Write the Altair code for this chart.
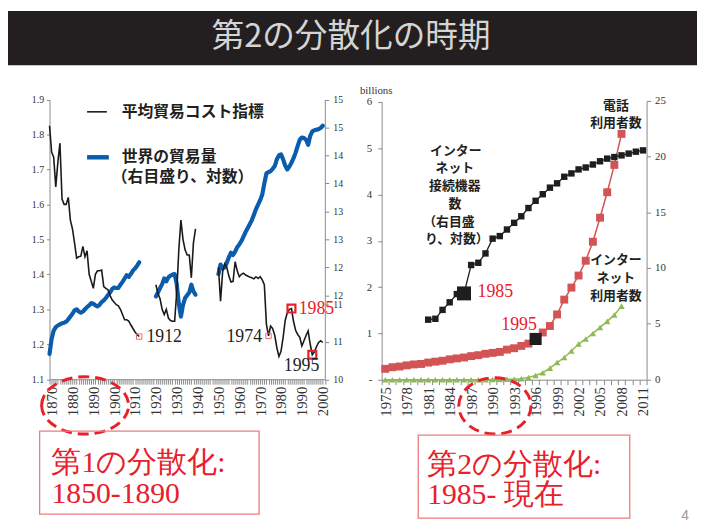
import altair as alt
import pandas as pd

W, H = 697, 522

# ---------------- left panel data ----------------
cost_years_a = list(range(1869, 1913))
cost_vals_a = [1.825, 1.75, 1.735, 1.65, 1.72, 1.775, 1.615, 1.60, 1.60, 1.62,
               1.555, 1.53, 1.49, 1.446, 1.45, 1.452, 1.48, 1.45, 1.467, 1.40,
               1.38, 1.36, 1.40, 1.41, 1.41, 1.412, 1.365, 1.36, 1.356, 1.34,
               1.327, 1.32, 1.313, 1.31, 1.30, 1.285, 1.27, 1.27, 1.266, 1.255,
               1.245, 1.235, 1.228, 1.222]
cost_years_b = list(range(1920, 1940))
cost_vals_b = [1.37, 1.345, 1.33, 1.30, 1.285, 1.30, 1.275, 1.268, 1.266, 1.266,
               1.35, 1.47, 1.555, 1.50, 1.47, 1.455, 1.455, 1.39, 1.49, 1.53]
cost_years_c = list(range(1950, 2001))
cost_vals_c = [1.42, 1.323, 1.407, 1.43, 1.42, 1.395, 1.378, 1.38, 1.436, 1.41,
               1.393, 1.40, 1.403, 1.398, 1.395, 1.392, 1.39, 1.387, 1.393, 1.388,
               1.393, 1.384, 1.37, 1.257, 1.224, 1.252, 1.245, 1.225, 1.19, 1.165,
               1.18, 1.219, 1.268, 1.29, 1.30, 1.302, 1.265, 1.24, 1.228, 1.22,
               1.195, 1.21, 1.225, 1.238, 1.20, 1.17, 1.178, 1.193, 1.205, 1.21,
               1.205]

trade_years_a = list(range(1869, 1913))
trade_vals_a = [10.45, 10.72, 10.87, 10.93, 10.96, 10.98, 11.0, 11.01, 11.03, 11.07,
                11.12, 11.17, 11.23, 11.25, 11.21, 11.19, 11.21, 11.25, 11.29, 11.32,
                11.36, 11.35, 11.32, 11.30, 11.33, 11.38, 11.41, 11.45, 11.50, 11.55,
                11.61, 11.64, 11.63, 11.63, 11.69, 11.74, 11.80, 11.86, 11.83, 11.88,
                11.94, 11.98, 12.03, 12.09]
trade_years_b = list(range(1920, 1940))
trade_vals_b = [11.48, 11.55, 11.63, 11.70, 11.80, 11.75, 11.82, 11.85, 11.87, 11.88,
                11.70, 11.35, 11.12, 11.33, 11.45, 11.50, 11.55, 11.69, 11.57, 11.51]
trade_years_c = list(range(1950, 2001))
trade_vals_c = [11.88, 12.05, 11.98, 12.0, 12.08, 12.18, 12.26, 12.22, 12.28, 12.36,
                12.41, 12.47, 12.55, 12.63, 12.70, 12.77, 12.84, 12.94, 13.04, 13.12,
                13.20, 13.30, 13.50, 13.68, 13.70, 13.72, 13.76, 13.81, 13.93, 14.0,
                14.02, 13.93, 13.82, 13.75, 13.80, 13.87, 13.95, 14.05, 14.17, 14.28,
                14.32, 14.31, 14.28, 14.19, 14.35, 14.43, 14.45, 14.46, 14.47, 14.49,
                14.53]

marker_years = [1912, 1974, 1985, 1995]
marker_vals = [1.222, 1.224, 1.302, 1.17]
marker_kind = ["light", "light", "bold", "bold"]

left_x_ticks = list(range(1869, 2002))
left_y_ticks = [1.1, 1.2, 1.3, 1.4, 1.5, 1.6, 1.7, 1.8, 1.9]
left_y2_ticks = [10, 10.67, 11.33, 11.5, 12, 12.5, 13, 13.5, 14, 14.5, 15]

# ---------------- right panel data ----------------
right_years = list(range(1975, 2009))
phone_users = [0.235, 0.27, 0.285, 0.31, 0.33, 0.34, 0.37, 0.39, 0.41, 0.44,
               0.46, 0.48, 0.51, 0.53, 0.56, 0.58, 0.60, 0.65, 0.68, 0.73,
               0.78, 0.88, 1.02, 1.16, 1.41, 1.73, 1.99, 2.25, 2.57, 2.98,
               3.50, 4.05, 4.64, 5.31]
net_users = [0, 0, 0, 0, 0, 0, 0, 0, 0, 0,
             0, 0, 0, 0, 0, 0.003, 0.005, 0.008, 0.012, 0.02,
             0.05, 0.09, 0.15, 0.25, 0.37, 0.48, 0.62, 0.77, 0.88, 1.00,
             1.13, 1.26, 1.40, 1.59]
host_years = list(range(1981, 2012))
net_hosts = [5.35, 5.43, 6.23, 6.91, 7.65, 7.71, 10.26, 10.46, 11.3, 12.63,
             12.86, 13.45, 14.05, 14.64, 15.38, 16.03, 16.62, 17.21, 17.6, 18.19,
             18.49, 18.85, 19.02, 19.29, 19.58, 19.82, 19.96, 20.11, 20.27, 20.44,
             20.56]
big_host_year, big_host_val = 1986, 7.71
big_phone_year, big_phone_val = 1996, 0.88

right_x_bounds = [1974.5 + i for i in range(38)]
right_x_labels = list(range(1975, 2012, 3))
right_y_ticks = [0, 1, 2, 3, 4, 5, 6]
right_y2_ticks = [0, 5, 10, 15, 20, 25]


def seg_df(parts):
    rows = []
    for i, (ys, vs) in enumerate(parts):
        for y, v in zip(ys, vs):
            rows.append({"year": y, "value": v, "seg": i})
    return pd.DataFrame(rows)


cost_df = seg_df([(cost_years_a, cost_vals_a), (cost_years_b, cost_vals_b), (cost_years_c, cost_vals_c)])
trade_df = seg_df([(trade_years_a, trade_vals_a), (trade_years_b, trade_vals_b), (trade_years_c, trade_vals_c)])
mk_df = pd.DataFrame({"year": marker_years, "value": marker_vals, "kind": marker_kind})
rdf = pd.DataFrame({"year": right_years, "phone": phone_users, "net": net_users})
hdf = pd.DataFrame({"year": host_years, "hosts": net_hosts})
big_h = pd.DataFrame({"year": [big_host_year], "v": [big_host_val]})
big_p = pd.DataFrame({"year": [big_phone_year], "v": [big_phone_val]})
one = pd.DataFrame({"k": [0]})

SERIF = "Liberation Serif"
CJK = "Noto Sans CJK JP"
RED = "#e8202a"

# ---------------- scales ----------------
LX = alt.Scale(domain=[1869, 2001], range=[42, 320.5], nice=False, zero=False)
LY = alt.Scale(domain=[1.1, 1.9], range=[372.5, 89.5], nice=False, zero=False)
LY2 = alt.Scale(domain=[10, 15], range=[372.5, 89.5], nice=False, zero=False)
RX = alt.Scale(domain=[1974.5, 2011.5], range=[378, 646], nice=False, zero=False)
RY = alt.Scale(domain=[0, 6], range=[373, 92], nice=False)
RY2 = alt.Scale(domain=[0, 25], range=[372.5, 91], nice=False)

axc = dict(grid=False, domainColor="#8a8a8a", tickColor="#8a8a8a", labelColor="#333333",
           labelFont=SERIF)

LX_AXIS = alt.Axis(orient="bottom", offset=372.5 - H, values=left_x_ticks, title=None,
                   labelExpr="datum.value % 10 == 0 ? format(datum.value, 'd') : ''",
                   labelAngle=270, labelAlign="right", labelBaseline="middle", labelFontSize=15,
                   tickSize=5, labelPadding=2, labelOverlap=False, labelFlush=False,
                   labelBound=False, **axc)
LY_AXIS = alt.Axis(orient="left", offset=-42, values=left_y_ticks, format=".1f", title=None,
                   labelFontSize=10, tickSize=3, labelPadding=3, labelOverlap=False, **axc)
LY2_AXIS = alt.Axis(orient="right", offset=320.5 - W, values=left_y2_ticks, title=None,
                    labelExpr="format(round(datum.value), 'd')", labelFontSize=10,
                    tickSize=4, labelPadding=4, labelOverlap=False, **axc)
RX_TICK_AXIS = alt.Axis(orient="bottom", offset=373 - H, values=right_x_bounds, title=None,
                        labels=False, tickSize=5, **axc)
RX_LABEL_AXIS = alt.Axis(orient="bottom", offset=373 - H, values=right_x_labels, title=None,
                         format="d", labelAngle=270, labelAlign="right", labelBaseline="middle",
                         labelFontSize=15, tickSize=5, tickOpacity=0, domain=False,
                         labelPadding=2, labelOverlap=False, labelFlush=False, labelBound=False,
                         **axc)
RY_AXIS = alt.Axis(orient="left", offset=-378, values=right_y_ticks, title="billions",
                   labelExpr="datum.value == 0 ? '-' : format(datum.value, 'd')",
                   labelFontSize=11, tickSize=4, labelPadding=6, labelOverlap=False,
                   titleAngle=0, titleX=-6, titleY=80, titleAlign="center",
                   titleBaseline="middle", titleFont=SERIF, titleFontSize=11,
                   titleFontWeight="normal", titleColor="#333333", **axc)
RY2_AXIS = alt.Axis(orient="right", offset=646 - W, values=right_y2_ticks, title=None,
                    format="d", labelFontSize=11, tickSize=4, labelPadding=4,
                    labelOverlap=False, **axc)


def txt(text, x, y, size, color="#231f20", font=CJK, weight="normal", align="left"):
    return alt.Chart(one).mark_text(text=text, font=font, fontSize=size, fontWeight=weight,
                                    color=color, align=align, baseline="middle").encode(
        x=alt.value(x), y=alt.value(y))


def ellipse_path(b):
    k = 0.5523
    kb = round(k * b, 4)
    b = round(b, 4)
    return (f"M-1,0C-1,{-kb},{-k},{-b},0,{-b}C{k},{-b},1,{-kb},1,0"
            f"C1,{kb},{k},{b},0,{b}C{-k},{b},-1,{kb},-1,0Z")


# ---------------- decoration ----------------
bar = alt.Chart(one).mark_rect(color="#231f20").encode(
    x=alt.value(0), x2=alt.value(W), y=alt.value(0), y2=alt.value(55))
title_txt = txt("第2の分散化の時期", 347, 26, 33, color="#d4d4d4", align="center")
page_no = txt("4", 681, 511, 14, color="#9a9a9a", font="Liberation Sans")

# ---------------- left panel ----------------
trade_line = alt.Chart(trade_df).mark_line(color="#0b5cad", strokeWidth=4.2, strokeJoin="round",
                                           strokeCap="round").encode(
    x=alt.X("year:Q", scale=LX, axis=None),
    y=alt.Y("value:Q", scale=LY2, axis=LY2_AXIS),
    detail="seg:N")
cost_line = alt.Chart(cost_df).mark_line(color="#1a1a1a", strokeWidth=1.6).encode(
    x=alt.X("year:Q", scale=LX, axis=LX_AXIS),
    y=alt.Y("value:Q", scale=LY, axis=LY_AXIS),
    detail="seg:N")
mk_light = alt.Chart(mk_df).transform_filter("datum.kind == 'light'").mark_point(
    shape="square", size=30, filled=False, stroke="#f06a6a", strokeWidth=1, opacity=1).encode(
    x=alt.X("year:Q", scale=LX, axis=None), y=alt.Y("value:Q", scale=LY, axis=None))
mk_bold = alt.Chart(mk_df).transform_filter("datum.kind == 'bold'").mark_point(
    shape="square", size=64, filled=False, stroke=RED, strokeWidth=2.2, opacity=1).encode(
    x=alt.X("year:Q", scale=LX, axis=None), y=alt.Y("value:Q", scale=LY, axis=None))

leg_black = alt.Chart(one).mark_rule(color="#1a1a1a", strokeWidth=1.6).encode(
    x=alt.value(80), x2=alt.value(100), y=alt.value(102))
leg_blue = alt.Chart(one).mark_rule(color="#0b5cad", strokeWidth=4.5).encode(
    x=alt.value(80), x2=alt.value(102), y=alt.value(148))
leg_t1 = txt("平均貿易コスト指標", 115, 102, 16, weight="bold")
leg_t2 = txt("世界の貿易量", 115, 148, 16, weight="bold")
leg_t3 = txt("（右目盛り、対数）", 105, 168, 16, weight="bold")

lab_1912 = txt("1912", 140, 330, 18, color="#222222", font=SERIF)
lab_1974 = txt("1974", 221, 330, 18, color="#222222", font=SERIF)
lab_1985l = txt("1985", 294, 302, 18, color=RED, font=SERIF)
lab_1995l = txt("1995", 279, 359, 18, color="#222222", font=SERIF)

# ---------------- right panel ----------------
green_line = alt.Chart(rdf).mark_line(color="#8fba52", strokeWidth=1.5).encode(
    x=alt.X("year:Q", scale=RX, axis=RX_TICK_AXIS), y=alt.Y("net:Q", scale=RY, axis=RY_AXIS))
green_pts = alt.Chart(rdf).mark_point(shape="triangle-up", size=42, filled=True,
                                      color="#8fba52", opacity=1).encode(
    x=alt.X("year:Q", scale=RX, axis=None), y=alt.Y("net:Q", scale=RY, axis=None))
red_line = alt.Chart(rdf).mark_line(color="#d35454", strokeWidth=1.5).encode(
    x=alt.X("year:Q", scale=RX, axis=RX_LABEL_AXIS), y=alt.Y("phone:Q", scale=RY, axis=None))
red_pts = alt.Chart(rdf).mark_point(shape="square", size=64, filled=True,
                                    color="#d35454", opacity=1).encode(
    x=alt.X("year:Q", scale=RX, axis=None), y=alt.Y("phone:Q", scale=RY, axis=None))
black_line = alt.Chart(hdf).mark_line(color="#1e1e1e", strokeWidth=1.3).encode(
    x=alt.X("year:Q", scale=RX, axis=None), y=alt.Y("hosts:Q", scale=RY2, axis=RY2_AXIS))
black_pts = alt.Chart(hdf).mark_point(shape="square", size=42, filled=True,
                                      color="#1e1e1e", opacity=1).encode(
    x=alt.X("year:Q", scale=RX, axis=None), y=alt.Y("hosts:Q", scale=RY2, axis=None))
big_sq_h = alt.Chart(big_h).mark_point(shape="square", size=200, filled=True,
                                       color="#1e1e1e", opacity=1).encode(
    x=alt.X("year:Q", scale=RX, axis=None), y=alt.Y("v:Q", scale=RY2, axis=None))
big_sq_p = alt.Chart(big_p).mark_point(shape="square", size=150, filled=True,
                                       color="#1e1e1e", opacity=1).encode(
    x=alt.X("year:Q", scale=RX, axis=None), y=alt.Y("v:Q", scale=RY, axis=None))

rt = []
for s, x, y in [("電話", 615, 96), ("利用者数", 615, 113),
                ("インター", 453, 142), ("ネット", 452, 159), ("接続機器", 452, 177),
                ("数", 452, 195), ("（右目盛", 446, 214), ("り、対数）", 454, 231),
                ("インター", 615, 252), ("ネット", 615, 270), ("利用者数", 615, 288)]:
    rt.append(txt(s, x, y, 13, weight="bold", align="center"))
lab_1985r = txt("1985", 475, 284, 18, color=RED, font=SERIF)
lab_1995r = txt("1995", 499, 318, 18, color=RED, font=SERIF)

# ---------------- dashed ellipses and boxes ----------------
ell_left = alt.Chart(one).mark_point(shape=ellipse_path(29 / 44), size=88 * 88, filled=False,
                                     stroke=RED, strokeWidth=3, strokeDash=[11, 6],
                                     opacity=1).encode(x=alt.value(78), y=alt.value(399))
ell_right = alt.Chart(one).mark_point(shape=ellipse_path(28.5 / 36.5), size=73 * 73,
                                      filled=False, stroke=RED, strokeWidth=3,
                                      strokeDash=[11, 6], opacity=1).encode(
    x=alt.value(492.5), y=alt.value(399.5))
box_left = alt.Chart(one).mark_rect(fill="white", fillOpacity=0, stroke="#ef7b7b",
                                    strokeWidth=1.3).encode(
    x=alt.value(32), x2=alt.value(254), y=alt.value(425), y2=alt.value(509))
box_right = alt.Chart(one).mark_rect(fill="white", fillOpacity=0, stroke="#ef7b7b",
                                     strokeWidth=1.3).encode(
    x=alt.value(415), x2=alt.value(629), y=alt.value(429), y2=alt.value(513))
bt1 = txt("第1の分散化:", 44, 457, 30, color=RED, font=SERIF)
bt2 = txt("1850-1890", 44, 489, 30, color=RED, font=SERIF)
bt3 = txt("第2の分散化:", 424, 459, 30, color=RED, font=SERIF)
bt4 = txt("1985- 現在", 424, 490, 30, color=RED, font=SERIF)

layers = [bar, title_txt, page_no,
          trade_line, cost_line, mk_light, mk_bold,
          leg_black, leg_blue, leg_t1, leg_t2, leg_t3,
          lab_1912, lab_1974, lab_1985l, lab_1995l,
          green_line, green_pts, red_line, red_pts, black_line, black_pts,
          big_sq_p, big_sq_h] + rt + [lab_1985r, lab_1995r,
          ell_left, ell_right, box_left, box_right, bt1, bt2, bt3, bt4]

chart = alt.layer(*layers).resolve_scale(x="independent", y="independent").properties(
    width=W, height=H, autosize=alt.AutoSizeParams(type="none"), padding=0,
    background="white").configure_view(stroke=None).configure_axis(
    labelFont=SERIF, titleFont=SERIF)

chart.save("out.html", embed_options={"renderer": "svg", "actions": False})
